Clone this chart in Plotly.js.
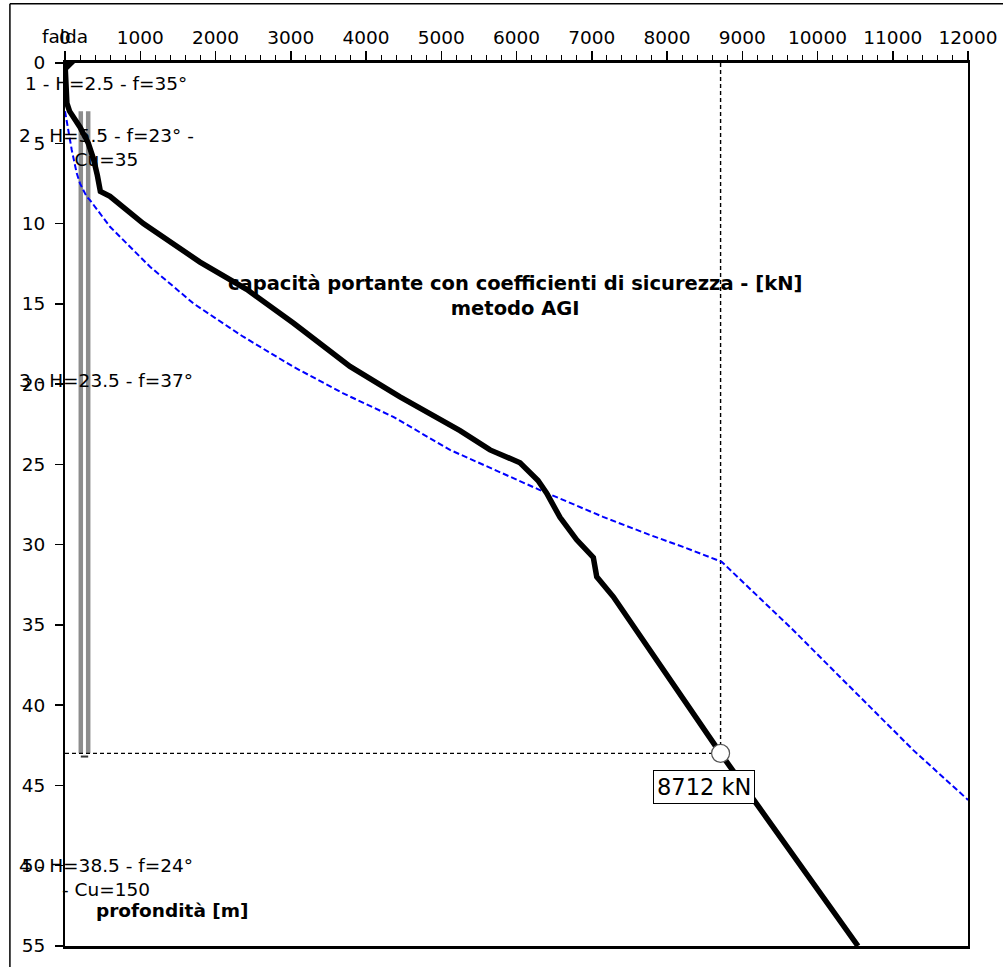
<!DOCTYPE html>
<html>
<head>
<meta charset="utf-8">
<script src="https://cdn.plot.ly/plotly-3.0.1.min.js"></script>
<style>
  html, body { margin: 0; padding: 0; background: #fff; }
  #chart { width: 1003px; height: 967px; }
</style>
</head>
<body>
<div id="chart"></div>
<script>
// ---- Data ----
// black curve: bearing capacity with safety factors (AGI method) [kN] vs depth [m]
const capDepth = [0, 1, 2, 2.5, 3, 4, 5, 6, 7, 8, 8.3, 10, 12.4, 14.1, 16.2, 18.9, 20.8, 22.9, 24.1, 24.9, 26, 26.8, 28.3, 29.7, 30.8, 32, 33.25, 43, 55];
const capValue = [0, 10, 20, 25, 60, 200, 310, 380, 430, 470, 598, 1041, 1794, 2414, 3034, 3787, 4452, 5249, 5648, 6047, 6286, 6401, 6578, 6800, 7021, 7066, 7287, 8712, 10538];

// blue dashed curve
const blueDepth = [3, 5.4, 6.85, 7.5, 8.33, 8.54, 10.2, 12.69, 14.97, 17.05, 18.92, 20.58, 22.04, 23.38, 24.1, 26.6, 28.27, 29.4, 30.14, 31.07, 33.35, 35.33, 38.24, 40.3, 42.8, 45.9];
const blueValue = [0, 89, 155, 199, 288, 332, 598, 1130, 1705, 2369, 3034, 3698, 4363, 4850, 5116, 6312, 7150, 7774, 8213, 8727, 9236, 9679, 10299, 10742, 11273, 12000];

// soil layers
const layerThickness = [2.5, 5.5, 23.5, 38.5];
const layerLabels = [
  '1 - H=2.5 - f=35°',
  '2 - H=5.5 - f=23° -<br>Cu=35',
  '3 - H=23.5 - f=37°',
  '4 - H=38.5 - f=24°<br>- Cu=150'
];

// pile (head / tip depth) and design point
const pileHead = 3;
const pileTip = 43;
const designDepth = 43;
const designCapacity = 8712;

// axis ticks
const xTickVals = [0, 1000, 2000, 3000, 4000, 5000, 6000, 7000, 8000, 9000, 10000, 11000, 12000];
const xTickText = ['0', '1000', '2000', '3000', '4000', '5000', '6000', '7000', '8000', '9000', '10000', '11000', '12000'];
const yTickVals = [0, 5, 10, 15, 20, 25, 30, 35, 40, 45, 50, 55];
const yTickText = ['0', '5', '10', '15', '20', '25', '30', '35', '40', '45', '50', '55'];

const chartTitle = ['capacità portante con coefficienti di sicurezza - [kN]', 'metodo AGI'];
const yTitle = 'profondità [m]';
const waterTableLabel = 'falda';

// ---- Build ----
const FONT = 'DejaVu Sans, Liberation Sans, sans-serif';

// layer midpoints
const layerMid = [];
let layerTop = 0;
for (const h of layerThickness) { layerMid.push(layerTop + h / 2); layerTop += h; }

const traces = [
  {
    x: blueValue, y: blueDepth, mode: 'lines', type: 'scatter',
    line: { color: '#0000ff', width: 2, dash: '6px,3px' }, hoverinfo: 'skip'
  },
  {
    x: capValue, y: capDepth, mode: 'lines', type: 'scatter',
    line: { color: '#000000', width: 5.5 }, hoverinfo: 'skip'
  },
  {
    x: [designCapacity], y: [designDepth], mode: 'markers', type: 'scatter',
    marker: { size: 18, color: '#ffffff', line: { color: '#555555', width: 1.2 } },
    hoverinfo: 'skip'
  },
  {
    x: [45], y: [0.2], mode: 'markers', type: 'scatter', cliponaxis: false,
    marker: { size: 11, symbol: 'triangle-nw', color: '#000000' }, hoverinfo: 'skip'
  }
];

const pileX = [210, 308];
const shapes = [
  // outer chart frame
  { type: 'line', xref: 'paper', yref: 'paper', x0: -0.061, x1: 1.05, y0: 1.067, y1: 1.067, line: { color: '#000', width: 1.5 } },
  { type: 'line', xref: 'paper', yref: 'paper', x0: -0.061, x1: -0.061, y0: 1.067, y1: -0.05, line: { color: '#000', width: 1.5 } },
  // pile
  { type: 'line', layer: 'below', xref: 'x', yref: 'y', x0: pileX[0], x1: pileX[0], y0: pileHead, y1: pileTip, line: { color: '#8c8c8c', width: 4.5 } },
  { type: 'line', layer: 'below', xref: 'x', yref: 'y', x0: pileX[1], x1: pileX[1], y0: pileHead, y1: pileTip, line: { color: '#8c8c8c', width: 4.5 } },
  { type: 'line', layer: 'below', xref: 'x', yref: 'y', x0: pileX[0], x1: pileX[1], y0: pileTip + 0.2, y1: pileTip + 0.2, line: { color: '#333', width: 2 } },
  // design point guide lines
  { type: 'line', layer: 'below', xref: 'x', yref: 'y', x0: 0, x1: designCapacity, y0: designDepth, y1: designDepth, line: { color: '#000', width: 1.4, dash: '4px,3px' } },
  { type: 'line', layer: 'below', xref: 'x', yref: 'y', x0: designCapacity, x1: designCapacity, y0: 0, y1: designDepth, line: { color: '#000', width: 1.4, dash: '4px,3px' } }
];

const annotations = [];
layerLabels.forEach((t, i) => {
  annotations.push({
    x: 545, y: layerMid[i], xref: 'x', yref: 'y', text: t, showarrow: false,
    xanchor: 'center', yanchor: 'middle', align: 'center',
    font: { family: FONT, size: 18.5, color: '#000' }
  });
});
annotations.push({
  x: 5980, y: 14.5, xref: 'x', yref: 'y', text: '<b>' + chartTitle.join('<br>') + '</b>', showarrow: false,
  xanchor: 'center', yanchor: 'middle', align: 'center',
  font: { family: FONT, size: 19.5, color: '#000' }
});
annotations.push({
  x: 1430, y: 52.8, xref: 'x', yref: 'y', text: '<b>' + yTitle + '</b>', showarrow: false,
  xanchor: 'center', yanchor: 'middle',
  font: { family: FONT, size: 18.5, color: '#000' }
});
annotations.push({
  x: 0, y: 1.03, xref: 'x', yref: 'paper', text: waterTableLabel, showarrow: false,
  xanchor: 'center', yanchor: 'middle',
  font: { family: FONT, size: 18.5, color: '#000' }
});
annotations.push({
  x: designCapacity, y: designDepth, xref: 'x', yref: 'y', text: designCapacity + ' kN', showarrow: false,
  xanchor: 'center', yanchor: 'middle', xshift: -17, yshift: -34,
  bgcolor: '#ffffff', bordercolor: '#000', borderwidth: 1, borderpad: 3,
  font: { family: FONT, size: 22.5, color: '#000' }
});

const layout = {
  width: 1003, height: 967,
  margin: { l: 65, r: 35, t: 63, b: 21, pad: 0 },
  paper_bgcolor: '#ffffff', plot_bgcolor: '#ffffff',
  showlegend: false,
  font: { family: FONT, color: '#000' },
  xaxis: {
    side: 'top', range: [0, 12000], tickvals: xTickVals, ticktext: xTickText,
    ticks: 'outside', ticklen: 9, tickwidth: 1.5, tickcolor: '#000',
    showline: true, linewidth: 3, linecolor: '#000', mirror: true,
    showgrid: false, zeroline: false,
    tickfont: { family: FONT, size: 18.5, color: '#000' },
    minor: { dtick: 200, tick0: 0, ticks: 'outside', ticklen: 5, tickwidth: 1, tickcolor: '#000', showgrid: false }
  },
  yaxis: {
    range: [55, 0], tickvals: yTickVals, ticktext: yTickText,
    ticks: 'outside', ticklen: 8, tickwidth: 1.5, tickcolor: '#000',
    showline: true, linewidth: 2, linecolor: '#000', mirror: true,
    showgrid: false, zeroline: false, ticklabelstandoff: 6,
    tickfont: { family: FONT, size: 18.5, color: '#000' }
  },
  shapes: shapes,
  annotations: annotations
};

Plotly.newPlot('chart', traces, layout, { staticPlot: true, displayModeBar: false });
</script>
</body>
</html>
